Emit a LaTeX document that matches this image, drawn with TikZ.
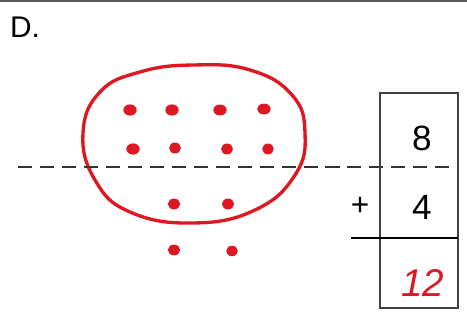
\documentclass[tikz,border=0pt]{standalone}
\usepackage{fontspec}
\setmainfont{Liberation Sans}
\usepackage{xcolor}
\usepackage{tikz}
\definecolor{penred}{RGB}{222,24,34}

\begin{document}
\begin{tikzpicture}[x=0.02cm, y=-0.02cm]
\useasboundingbox (0,0) rectangle (467,324);

% Top rule
\draw[black!65, line width=1.2pt] (0,1) -- (467,1);

% Problem label
\node[font=\fontsize{17}{20}\selectfont] (letter) at (25,27) {D.};

% Circled dots
\draw[penred, line width=1.9pt] plot[smooth cycle, tension=0.75] coordinates
  {(193,65) (140,72) (100,92) (83,133) (95,180) (130,212) (193,223) (255,210) (295,175) (305,133) (292,95) (250,70)};

\fill[penred] (130,110) ellipse [x radius=3.8pt, y radius=3.2pt];
\fill[penred] (172,110) ellipse [x radius=3.8pt, y radius=3.2pt];
\fill[penred] (220,110) ellipse [x radius=3.8pt, y radius=3.1pt];
\fill[penred] (264,109) ellipse [x radius=3.8pt, y radius=3.1pt];

\fill[penred] (133,149) ellipse [x radius=3.8pt, y radius=3.2pt];
\fill[penred] (175,148) ellipse [x radius=3.4pt, y radius=3.1pt];
\fill[penred] (227,149) ellipse [x radius=3.4pt, y radius=3.1pt];
\fill[penred] (268,149) ellipse [x radius=3.3pt, y radius=3.1pt];

\fill[penred] (174,204) ellipse [x radius=3.5pt, y radius=3.1pt];
\fill[penred] (228,204) ellipse [x radius=3.5pt, y radius=3.1pt];

\fill[penred] (174,250) ellipse [x radius=3.5pt, y radius=3.1pt];
\fill[penred] (232,251) ellipse [x radius=3.3pt, y radius=3pt];

% Dashed ten-line
\draw[black!80, line width=0.8pt, dash pattern=on 8pt off 4.5pt] (18,167) -- (458,167);

% Addition box
\draw[black!75, line width=0.6pt] (380,93) rectangle (458,308);
\draw[black, line width=1.7pt] (351,238) -- (458,238);

\node[font=\fontsize{20}{24}\selectfont] (top) at (422,138) {8};
\node[font=\fontsize{20}{24}\selectfont] (bottom) at (422,207) {4};
\node[font=\fontsize{18}{22}\selectfont] (plus) at (360,206) {+};
\node[penred, font=\fontsize{22}{26}\selectfont\itshape] (sum) at (423,283) {12};

\end{tikzpicture}
\end{document}
